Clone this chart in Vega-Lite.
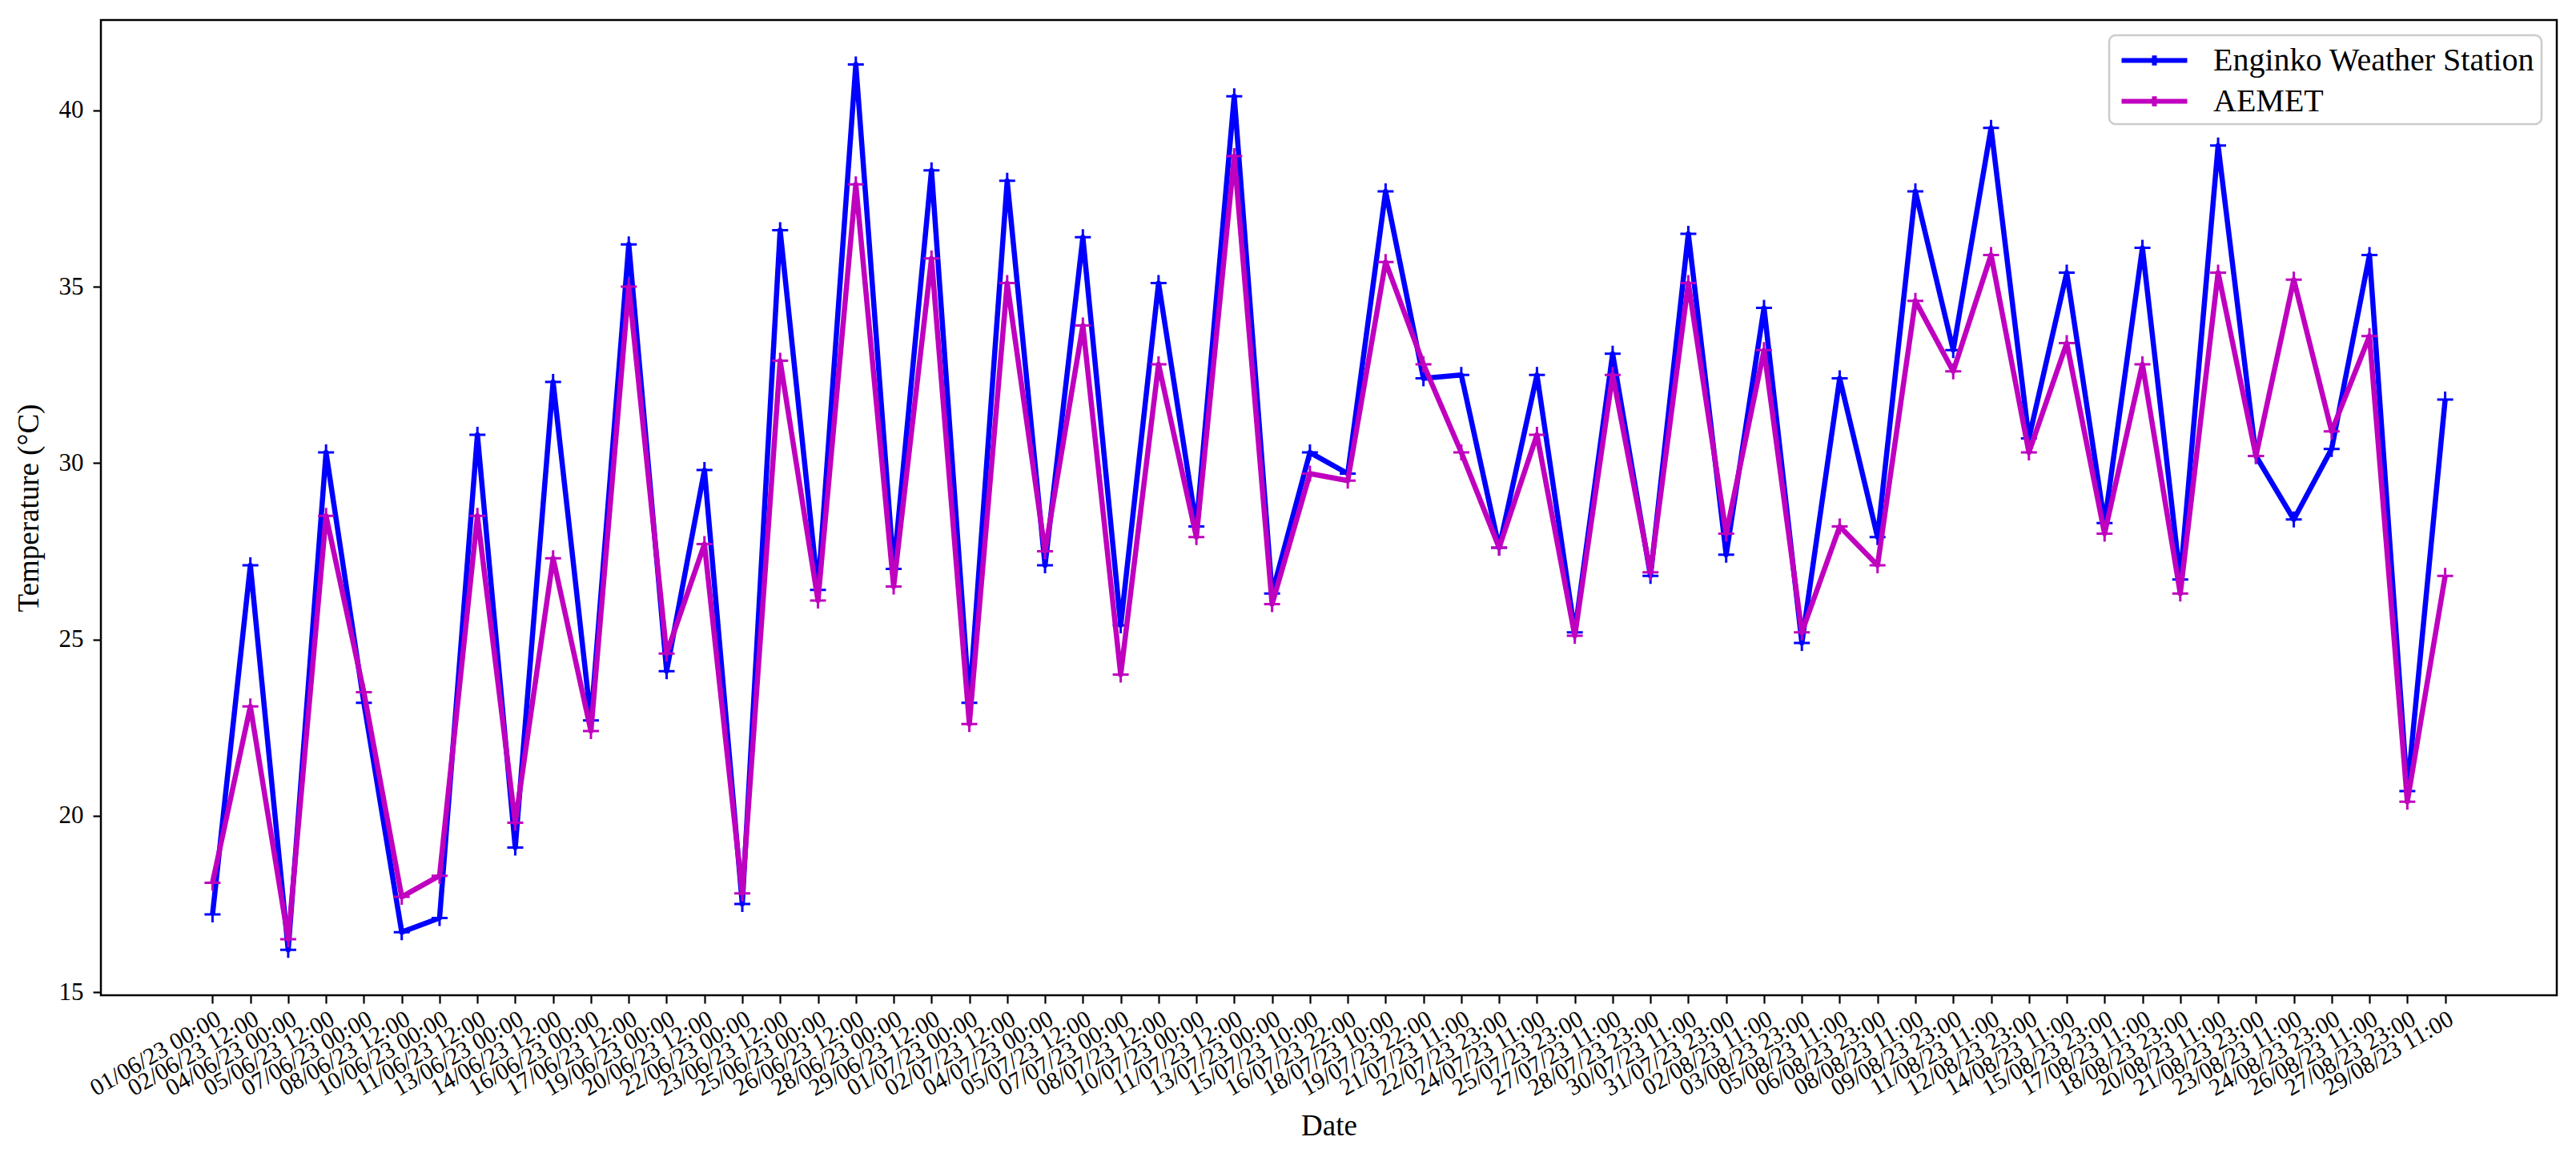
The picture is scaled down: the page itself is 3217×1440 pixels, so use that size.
{
  "$schema": "https://vega.github.io/schema/vega-lite/v6.json",
  "autosize": {"type": "none"},
  "width": 3067,
  "height": 1218,
  "padding": {"left": 126, "top": 25, "right": 24, "bottom": 197},
  "background": "white",
  "config": {
    "font": "Liberation Serif",
    "view": {"stroke": "black", "strokeWidth": 2.5},
    "axis": {
      "grid": false,
      "domain": false,
      "tickColor": "black",
      "tickWidth": 2.2,
      "tickSize": 10,
      "labelColor": "black",
      "labelFont": "Liberation Serif",
      "labelFontSize": 31,
      "titleFont": "Liberation Serif",
      "titleFontSize": 37,
      "titleFontWeight": "normal",
      "titleColor": "black"
    },
    "legend": {
      "orient": "top-right",
      "offset": 19,
      "title": null,
      "strokeColor": "#cccccc",
      "strokeWidth": 2.5,
      "cornerRadius": 8,
      "fillColor": "rgba(255,255,255,0.8)",
      "padding": 8,
      "labelFont": "Liberation Serif",
      "labelFontSize": 40,
      "labelColor": "black",
      "labelLimit": 0,
      "labelOffset": 50,
      "rowPadding": 7,
      "symbolType": "M-2,0H2M0,-0.3V0.3",
      "symbolSize": 1681,
      "symbolOffset": 25,
      "symbolStrokeWidth": 6,
      "symbolFillColor": "transparent"
    }
  },
  "data": {
    "values": [
      {"date": "01/06/23 00:00", "station": "Enginko Weather Station", "temp": 17.2},
      {"date": "02/06/23 12:00", "station": "Enginko Weather Station", "temp": 27.1},
      {"date": "04/06/23 00:00", "station": "Enginko Weather Station", "temp": 16.2},
      {"date": "05/06/23 12:00", "station": "Enginko Weather Station", "temp": 30.3},
      {"date": "07/06/23 00:00", "station": "Enginko Weather Station", "temp": 23.2},
      {"date": "08/06/23 12:00", "station": "Enginko Weather Station", "temp": 16.7},
      {"date": "10/06/23 00:00", "station": "Enginko Weather Station", "temp": 17.1},
      {"date": "11/06/23 12:00", "station": "Enginko Weather Station", "temp": 30.8},
      {"date": "13/06/23 00:00", "station": "Enginko Weather Station", "temp": 19.1},
      {"date": "14/06/23 12:00", "station": "Enginko Weather Station", "temp": 32.3},
      {"date": "16/06/23 00:00", "station": "Enginko Weather Station", "temp": 22.7},
      {"date": "17/06/23 12:00", "station": "Enginko Weather Station", "temp": 36.2},
      {"date": "19/06/23 00:00", "station": "Enginko Weather Station", "temp": 24.1},
      {"date": "20/06/23 12:00", "station": "Enginko Weather Station", "temp": 29.8},
      {"date": "22/06/23 00:00", "station": "Enginko Weather Station", "temp": 17.5},
      {"date": "23/06/23 12:00", "station": "Enginko Weather Station", "temp": 36.6},
      {"date": "25/06/23 00:00", "station": "Enginko Weather Station", "temp": 26.4},
      {"date": "26/06/23 12:00", "station": "Enginko Weather Station", "temp": 41.3},
      {"date": "28/06/23 00:00", "station": "Enginko Weather Station", "temp": 27.0},
      {"date": "29/06/23 12:00", "station": "Enginko Weather Station", "temp": 38.3},
      {"date": "01/07/23 00:00", "station": "Enginko Weather Station", "temp": 23.2},
      {"date": "02/07/23 12:00", "station": "Enginko Weather Station", "temp": 38.0},
      {"date": "04/07/23 00:00", "station": "Enginko Weather Station", "temp": 27.1},
      {"date": "05/07/23 12:00", "station": "Enginko Weather Station", "temp": 36.4},
      {"date": "07/07/23 00:00", "station": "Enginko Weather Station", "temp": 25.4},
      {"date": "08/07/23 12:00", "station": "Enginko Weather Station", "temp": 35.1},
      {"date": "10/07/23 00:00", "station": "Enginko Weather Station", "temp": 28.2},
      {"date": "11/07/23 12:00", "station": "Enginko Weather Station", "temp": 40.4},
      {"date": "13/07/23 00:00", "station": "Enginko Weather Station", "temp": 26.3},
      {"date": "15/07/23 10:00", "station": "Enginko Weather Station", "temp": 30.3},
      {"date": "16/07/23 22:00", "station": "Enginko Weather Station", "temp": 29.7},
      {"date": "18/07/23 10:00", "station": "Enginko Weather Station", "temp": 37.7},
      {"date": "19/07/23 22:00", "station": "Enginko Weather Station", "temp": 32.4},
      {"date": "21/07/23 11:00", "station": "Enginko Weather Station", "temp": 32.5},
      {"date": "22/07/23 23:00", "station": "Enginko Weather Station", "temp": 27.6},
      {"date": "24/07/23 11:00", "station": "Enginko Weather Station", "temp": 32.5},
      {"date": "25/07/23 23:00", "station": "Enginko Weather Station", "temp": 25.2},
      {"date": "27/07/23 11:00", "station": "Enginko Weather Station", "temp": 33.1},
      {"date": "28/07/23 23:00", "station": "Enginko Weather Station", "temp": 26.8},
      {"date": "30/07/23 11:00", "station": "Enginko Weather Station", "temp": 36.5},
      {"date": "31/07/23 23:00", "station": "Enginko Weather Station", "temp": 27.4},
      {"date": "02/08/23 11:00", "station": "Enginko Weather Station", "temp": 34.4},
      {"date": "03/08/23 23:00", "station": "Enginko Weather Station", "temp": 24.9},
      {"date": "05/08/23 11:00", "station": "Enginko Weather Station", "temp": 32.4},
      {"date": "06/08/23 23:00", "station": "Enginko Weather Station", "temp": 27.9},
      {"date": "08/08/23 11:00", "station": "Enginko Weather Station", "temp": 37.7},
      {"date": "09/08/23 23:00", "station": "Enginko Weather Station", "temp": 33.2},
      {"date": "11/08/23 11:00", "station": "Enginko Weather Station", "temp": 39.5},
      {"date": "12/08/23 23:00", "station": "Enginko Weather Station", "temp": 30.7},
      {"date": "14/08/23 11:00", "station": "Enginko Weather Station", "temp": 35.4},
      {"date": "15/08/23 23:00", "station": "Enginko Weather Station", "temp": 28.3},
      {"date": "17/08/23 11:00", "station": "Enginko Weather Station", "temp": 36.1},
      {"date": "18/08/23 23:00", "station": "Enginko Weather Station", "temp": 26.7},
      {"date": "20/08/23 11:00", "station": "Enginko Weather Station", "temp": 39.0},
      {"date": "21/08/23 23:00", "station": "Enginko Weather Station", "temp": 30.2},
      {"date": "23/08/23 11:00", "station": "Enginko Weather Station", "temp": 28.4},
      {"date": "24/08/23 23:00", "station": "Enginko Weather Station", "temp": 30.4},
      {"date": "26/08/23 11:00", "station": "Enginko Weather Station", "temp": 35.9},
      {"date": "27/08/23 23:00", "station": "Enginko Weather Station", "temp": 20.7},
      {"date": "29/08/23 11:00", "station": "Enginko Weather Station", "temp": 31.8},
      {"date": "01/06/23 00:00", "station": "AEMET", "temp": 18.1},
      {"date": "02/06/23 12:00", "station": "AEMET", "temp": 23.1},
      {"date": "04/06/23 00:00", "station": "AEMET", "temp": 16.5},
      {"date": "05/06/23 12:00", "station": "AEMET", "temp": 28.5},
      {"date": "07/06/23 00:00", "station": "AEMET", "temp": 23.5},
      {"date": "08/06/23 12:00", "station": "AEMET", "temp": 17.7},
      {"date": "10/06/23 00:00", "station": "AEMET", "temp": 18.3},
      {"date": "11/06/23 12:00", "station": "AEMET", "temp": 28.5},
      {"date": "13/06/23 00:00", "station": "AEMET", "temp": 19.8},
      {"date": "14/06/23 12:00", "station": "AEMET", "temp": 27.3},
      {"date": "16/06/23 00:00", "station": "AEMET", "temp": 22.4},
      {"date": "17/06/23 12:00", "station": "AEMET", "temp": 35.0},
      {"date": "19/06/23 00:00", "station": "AEMET", "temp": 24.6},
      {"date": "20/06/23 12:00", "station": "AEMET", "temp": 27.7},
      {"date": "22/06/23 00:00", "station": "AEMET", "temp": 17.8},
      {"date": "23/06/23 12:00", "station": "AEMET", "temp": 32.9},
      {"date": "25/06/23 00:00", "station": "AEMET", "temp": 26.1},
      {"date": "26/06/23 12:00", "station": "AEMET", "temp": 37.9},
      {"date": "28/06/23 00:00", "station": "AEMET", "temp": 26.5},
      {"date": "29/06/23 12:00", "station": "AEMET", "temp": 35.8},
      {"date": "01/07/23 00:00", "station": "AEMET", "temp": 22.6},
      {"date": "02/07/23 12:00", "station": "AEMET", "temp": 35.1},
      {"date": "04/07/23 00:00", "station": "AEMET", "temp": 27.5},
      {"date": "05/07/23 12:00", "station": "AEMET", "temp": 33.9},
      {"date": "07/07/23 00:00", "station": "AEMET", "temp": 24.0},
      {"date": "08/07/23 12:00", "station": "AEMET", "temp": 32.8},
      {"date": "10/07/23 00:00", "station": "AEMET", "temp": 27.9},
      {"date": "11/07/23 12:00", "station": "AEMET", "temp": 38.7},
      {"date": "13/07/23 00:00", "station": "AEMET", "temp": 26.0},
      {"date": "15/07/23 10:00", "station": "AEMET", "temp": 29.7},
      {"date": "16/07/23 22:00", "station": "AEMET", "temp": 29.5},
      {"date": "18/07/23 10:00", "station": "AEMET", "temp": 35.7},
      {"date": "19/07/23 22:00", "station": "AEMET", "temp": 32.8},
      {"date": "21/07/23 11:00", "station": "AEMET", "temp": 30.3},
      {"date": "22/07/23 23:00", "station": "AEMET", "temp": 27.6},
      {"date": "24/07/23 11:00", "station": "AEMET", "temp": 30.8},
      {"date": "25/07/23 23:00", "station": "AEMET", "temp": 25.1},
      {"date": "27/07/23 11:00", "station": "AEMET", "temp": 32.5},
      {"date": "28/07/23 23:00", "station": "AEMET", "temp": 26.9},
      {"date": "30/07/23 11:00", "station": "AEMET", "temp": 35.1},
      {"date": "31/07/23 23:00", "station": "AEMET", "temp": 28.0},
      {"date": "02/08/23 11:00", "station": "AEMET", "temp": 33.2},
      {"date": "03/08/23 23:00", "station": "AEMET", "temp": 25.2},
      {"date": "05/08/23 11:00", "station": "AEMET", "temp": 28.2},
      {"date": "06/08/23 23:00", "station": "AEMET", "temp": 27.1},
      {"date": "08/08/23 11:00", "station": "AEMET", "temp": 34.6},
      {"date": "09/08/23 23:00", "station": "AEMET", "temp": 32.6},
      {"date": "11/08/23 11:00", "station": "AEMET", "temp": 35.9},
      {"date": "12/08/23 23:00", "station": "AEMET", "temp": 30.3},
      {"date": "14/08/23 11:00", "station": "AEMET", "temp": 33.4},
      {"date": "15/08/23 23:00", "station": "AEMET", "temp": 28.0},
      {"date": "17/08/23 11:00", "station": "AEMET", "temp": 32.8},
      {"date": "18/08/23 23:00", "station": "AEMET", "temp": 26.3},
      {"date": "20/08/23 11:00", "station": "AEMET", "temp": 35.4},
      {"date": "21/08/23 23:00", "station": "AEMET", "temp": 30.2},
      {"date": "23/08/23 11:00", "station": "AEMET", "temp": 35.2},
      {"date": "24/08/23 23:00", "station": "AEMET", "temp": 30.9},
      {"date": "26/08/23 11:00", "station": "AEMET", "temp": 33.6},
      {"date": "27/08/23 23:00", "station": "AEMET", "temp": 20.4},
      {"date": "29/08/23 11:00", "station": "AEMET", "temp": 26.8}
    ]
  },
  "encoding": {
    "x": {
      "field": "date",
      "type": "ordinal",
      "sort": null,
      "scale": {"type": "point", "range": [139.4, 2927.6], "padding": 0},
      "title": "Date",
      "axis": {
        "labelAngle": -30,
        "labelAlign": "right",
        "labelBaseline": "top",
        "labelPadding": 4,
        "labelFontSize": 30,
        "labelLimit": 0,
        "titlePadding": 14,
        "labelOverlap": false
      }
    },
    "y": {
      "field": "temp",
      "type": "quantitative",
      "scale": {"domain": [14.91, 42.56], "nice": false, "zero": false},
      "title": "Temperature (°C)",
      "axis": {"values": [15, 20, 25, 30, 35, 40], "labelPadding": 12, "titlePadding": 18}
    },
    "color": {
      "field": "station",
      "type": "nominal",
      "scale": {"domain": ["Enginko Weather Station", "AEMET"], "range": ["#0000ff", "#bf00bf"]},
      "legend": {"title": null}
    }
  },
  "layer": [
    {
      "transform": [{"filter": "datum.station === 'Enginko Weather Station'"}],
      "mark": {"type": "line", "strokeWidth": 6.5, "strokeJoin": "round"}
    },
    {
      "transform": [{"filter": "datum.station === 'Enginko Weather Station'"}],
      "mark": {"type": "point", "shape": "M-1,0H1M0,-1V1", "filled": false, "size": 400, "strokeWidth": 3, "opacity": 1}
    },
    {
      "transform": [{"filter": "datum.station === 'AEMET'"}],
      "mark": {"type": "line", "strokeWidth": 6.5, "strokeJoin": "round"}
    },
    {
      "transform": [{"filter": "datum.station === 'AEMET'"}],
      "mark": {"type": "point", "shape": "M-1,0H1M0,-1V1", "filled": false, "size": 400, "strokeWidth": 3, "opacity": 1}
    }
  ]
}
